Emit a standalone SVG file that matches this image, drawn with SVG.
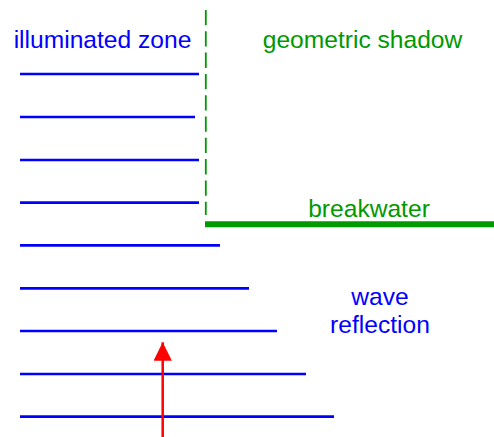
<svg xmlns="http://www.w3.org/2000/svg" width="494" height="437" viewBox="0 0 494 437">
<style>
.txt{font-family:"Liberation Sans",Arial,sans-serif;font-size:24.6px;text-anchor:middle}
.blue{fill:#0000FF}
.green{fill:#009900}
.wave{stroke:#0000FF;stroke-width:2.7;fill:none}
</style>
<defs>
<marker id="ah" markerWidth="18.4" markerHeight="18.4" viewBox="0 0 18.4 18.4" refX="18.4" refY="9.2" orient="auto" markerUnits="userSpaceOnUse">
<path d="M0,0 L18.4,9.2 L0,18.4 Z" fill="#FF0000"/>
</marker>
</defs>
<rect width="494" height="437" fill="#FFFFFF"/>
<g id="waves">
<line class="wave" x1="20" y1="74" x2="199" y2="74"/>
<line class="wave" x1="20" y1="117" x2="195" y2="117"/>
<line class="wave" x1="20" y1="160" x2="199" y2="160"/>
<line class="wave" x1="20" y1="202.7" x2="199" y2="202.7"/>
<line class="wave" x1="20" y1="245.3" x2="220" y2="245.3"/>
<line class="wave" x1="20" y1="288.3" x2="249" y2="288.3"/>
<line class="wave" x1="20" y1="331" x2="277" y2="331"/>
<line class="wave" x1="20" y1="374" x2="306" y2="374"/>
<line class="wave" x1="20" y1="416.7" x2="334" y2="416.7"/>
</g>
<g id="shadow-boundary">
<line x1="205.8" y1="10" x2="205.8" y2="215" stroke="#009900" stroke-width="1.8" stroke-dasharray="15.3 6"/>
</g>
<g id="breakwater">
<line x1="205" y1="224.3" x2="494" y2="224.3" stroke="#009900" stroke-width="6"/>
<text class="txt green" x="369" y="216.5">breakwater</text>
</g>
<g id="illuminated-zone">
<text class="txt blue" x="102.5" y="48">illuminated zone</text>
</g>
<g id="geometric-shadow">
<text class="txt green" x="362.5" y="48">geometric shadow</text>
</g>
<g id="wave-reflection">
<text class="txt blue" x="380" y="305">wave</text>
<text class="txt blue" x="380" y="333.3">reflection</text>
</g>
<g id="connectors">
<line x1="162.7" y1="437" x2="162.7" y2="342.3" stroke="#FF0000" stroke-width="2.5" marker-end="url(#ah)"/>
</g>
</svg>
